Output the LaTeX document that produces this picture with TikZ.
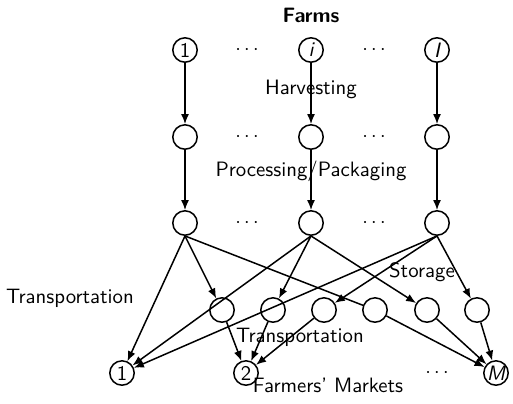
\documentclass[tikz,border=0pt]{standalone}
\usetikzlibrary{arrows.meta}
\begin{document}
\begin{tikzpicture}[x=0.5pt,y=-0.5pt,font=\sffamily\fontsize{10.4}{12}\selectfont,
  nd/.style={circle,draw,line width=0.75pt,minimum size=12.2pt,inner sep=0pt},
  lbl/.style={inner sep=0pt},
  ln/.style={line width=0.75pt},
  ar/.style={line width=0.75pt,-{Latex[length=5pt,width=4pt]}}]
\useasboundingbox (0,0) rectangle (513,403);
\node[lbl,font=\sffamily\bfseries\fontsize{10.4}{12}\selectfont] (farms) at (311,15) {Farms};
% row 1
\node[nd] (a1) at (185,50) {1};
\node[nd] (a2) at (311,50) {\itshape i};
\node[nd] (a3) at (437,50) {\itshape I};
\node[lbl] (da1) at (247,50) {$\cdots$};
\node[lbl] (da2) at (374,50) {$\cdots$};
% row 2
\node[nd] (b1) at (185,137) {};
\node[nd] (b2) at (311,137) {};
\node[nd] (b3) at (437,137) {};
\node[lbl] (db1) at (247,137) {$\cdots$};
\node[lbl] (db2) at (374,137) {$\cdots$};
% row 3
\node[nd] (c1) at (185,223) {};
\node[nd] (c2) at (311,223) {};
\node[nd] (c3) at (437,223) {};
\node[lbl] (dc1) at (247,223) {$\cdots$};
\node[lbl] (dc2) at (374,223) {$\cdots$};
% storage row
\node[nd] (s1) at (222,310) {};
\node[nd] (s2) at (273,310) {};
\node[nd] (s3) at (324,310) {};
\node[nd] (s4) at (375,310) {};
\node[nd] (s5) at (427,310) {};
\node[nd] (s6) at (477,310) {};
% markets
\node[nd] (m1) at (122,373) {1};
\node[nd] (m2) at (246,373) {2};
\node[nd] (m3) at (496,373) {\itshape M};
\node[lbl] (dm) at (437,373) {$\cdots$};
% labels
\node[lbl] (harv) at (311,89) {Harvesting};
\node[lbl] (proc) at (311,171) {Processing/Packaging};
\node[lbl] (stor) at (422,272) {Storage};
\node[lbl] (tr1) at (70,298) {Transportation};
\node[lbl] (tr2) at (300,337) {Transportation};
\node[lbl] (fm) at (328,385) {Farmers' Markets};
% edges
\draw[ar] (a1) -- (b1);
\draw[ar] (a2) -- (b2);
\draw[ar] (a3) -- (b3);
\draw[ar] (b1) -- (c1);
\draw[ar] (b2) -- (c2);
\draw[ar] (b3) -- (c3);
\draw[ar] (c1.south) -- (m1);
\draw[ar] (c1.south) -- (s1);
\draw[ln] (c1.south) -- (s4);
\draw[ar] (c2.south) -- (m1);
\draw[ar] (c2.south) -- (s2);
\draw[ar] (c2.south) -- (s5);
\draw[ar] (c3.south) -- (m1);
\draw[ar] (c3.south) -- (s3);
\draw[ar] (c3.south) -- (s6);
\draw[ar] (s1) -- (m2);
\draw[ar] (s2) -- (m2);
\draw[ar] (s3) -- (m2);
\draw[ar] (s4) -- (m3);
\draw[ar] (s5) -- (m3);
\draw[ar] (s6) -- (m3);
\end{tikzpicture}
\end{document}
